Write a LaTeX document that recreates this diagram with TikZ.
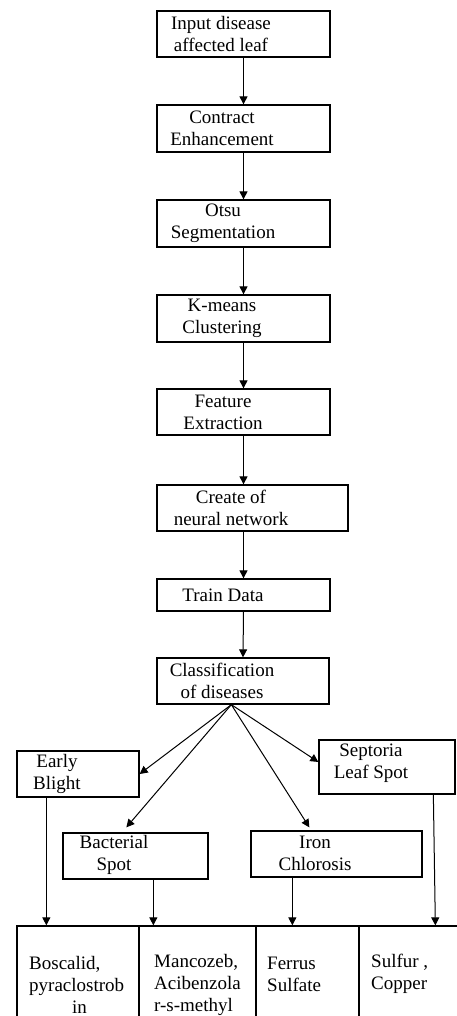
\documentclass[tikz,border=0pt]{standalone}
\usepackage{fontspec}
\setmainfont{Liberation Serif}
\usetikzlibrary{arrows.meta,calc}
\begin{document}
\begin{tikzpicture}[x=1pt,y=-1pt,
  box/.style={draw,line width=1.3pt,rectangle,inner sep=0pt},
  txt/.style={inner sep=0pt,align=center,font=\fontsize{19}{22}\selectfont},
  ltxt/.style={inner sep=0pt,align=left,anchor=west,font=\fontsize{19}{22}\selectfont},
  arr/.style={line width=1pt,-{Triangle[length=8pt,width=8pt]}}]
\useasboundingbox (0,0) rectangle (457,1016);
\clip (0,0) rectangle (457,1016);
% main column boxes
\node[box,minimum width=173,minimum height=46] (b1) at (243.5,34) {};
\node[box,minimum width=173,minimum height=47] (b2) at (243.5,128.5) {};
\node[box,minimum width=173,minimum height=47] (b3) at (243.5,223.5) {};
\node[box,minimum width=173,minimum height=47] (b4) at (243.5,318.5) {};
\node[box,minimum width=173,minimum height=46] (b5) at (243.5,412) {};
\node[box,minimum width=191,minimum height=46] (b6) at (252.5,508) {};
\node[box,minimum width=173,minimum height=32] (b7) at (243.5,595) {};
\node[box,minimum width=172,minimum height=46] (b8) at (243,681) {};
\node[txt] (t1) at (221,34) {Input disease\\affected leaf};
\node[txt] (t2) at (222,128.5) {Contract\\Enhancement};
\node[txt] (t3) at (223,223.5) {Otsu\\Segmentation};
\node[txt] (t4) at (222,318.5) {K-means\\Clustering};
\node[txt] (t5) at (223,412) {Feature\\Extraction};
\node[txt] (t6) at (231,508) {Create of\\neural network};
\node[txt] (t7) at (223,595) {Train Data};
\node[txt] (t8) at (222,681) {Classification\\of diseases};
% disease boxes
\node[box,minimum width=122,minimum height=46] (eb) at (78,774) {};
\node[box,minimum width=136,minimum height=54] (sep) at (387,767) {};
\node[box,minimum width=145,minimum height=46] (bac) at (135.5,856) {};
\node[box,minimum width=171,minimum height=46] (iron) at (336.5,854) {};
\node[txt] (teb) at (57,774) {Early\\Blight};
\node[txt] (tsep) at (371,763.5) {Septoria\\Leaf Spot};
\node[txt] (tbac) at (114,855) {Bacterial\\Spot};
\node[txt] (tiron) at (315,853.5) {Iron\\Chlorosis};
% table cells
\node[box,minimum width=122,minimum height=120] (c1) at (78,986) {};
\node[box,minimum width=117,minimum height=120] (c2) at (197.5,986) {};
\node[box,minimum width=103,minimum height=120] (c3) at (307.5,986) {};
\node[box,minimum width=111,minimum height=120] (c4) at (414.5,986) {};
\node[ltxt] (tc1) at (29,985) {Boscalid,\\pyraclostrob\\\hspace*{43pt}in};
\node[ltxt] (tc2) at (154,985) {Mancozeb,\\Acibenzola\\r-s-methyl};
\node[ltxt] (tc3) at (267,974) {Ferrus\\Sulfate};
\node[ltxt] (tc4) at (371,974) {Sulfur ,\\Copper};
% vertical arrows
\draw[arr] (b1.south) -- (b2.north);
\draw[arr] (b2.south) -- (b3.north);
\draw[arr] (b3.south) -- (b4.north);
\draw[arr] (b4.south) -- (b5.north);
\draw[arr] (b5.south) -- (b5.south |- b6.north);
\draw[arr] (b7.north |- b6.south) -- (b7.north);
\draw[arr] (b7.south) -- (b8.north);
% branch arrows
\coordinate (src) at ($(b8.south west)+(75,0)$);
\draw[arr] (src) -- (eb.east);
\draw[arr] (src) -- ($(sep.west)+(0,-5)$);
\draw[arr] (src) -- ($(bac.north west)+(64,-5)$);
\draw[arr] (src) -- ($(iron.north west)+(59,-3)$);
% to table
\draw[arr] ($(eb.south west)+(30,0)$) -- ($(c1.north west)+(30,0)$);
\draw[arr] ($(bac.south west)+(91,0)$) -- ($(c2.north west)+(15,0)$);
\draw[arr] ($(iron.south west)+(42,0)$) -- ($(c3.north west)+(37,0)$);
\draw[arr] ($(sep.south west)+(115,0)$) -- ($(c4.north west)+(77,0)$);
\end{tikzpicture}
\end{document}
